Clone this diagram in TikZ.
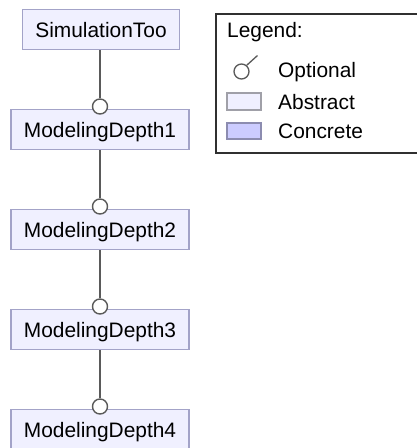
\documentclass[tikz,border=0pt]{standalone}
\usepackage{fontspec}
\setmainfont{Liberation Sans}
\begin{document}
\begin{tikzpicture}[x=1pt,y=-1pt,
  every node/.append style={font=\fontsize{20.9}{24}\selectfont},
  feature/.style={draw=boxline, fill=abstractfill, line width=1.4pt,
    rectangle, inner xsep=13pt, inner ysep=0pt, minimum height=40pt,
    text height=15pt, text depth=0pt},
  optcircle/.style={circle, draw=linegray, fill=white, line width=1.4pt,
    minimum size=15pt, inner sep=0pt},
  link/.style={draw=linegray, line width=1.4pt},
  legendtext/.style={anchor=base west, inner sep=0pt}]
\definecolor{boxline}{HTML}{A3A3C8}
\definecolor{abstractfill}{HTML}{F0F0FF}
\definecolor{concretefill}{HTML}{CCCCFF}
\definecolor{concreteline}{HTML}{8C8CB0}
\definecolor{abstractline}{HTML}{A0A0A8}
\definecolor{linegray}{HTML}{5A5A5A}
\definecolor{legendline}{HTML}{303030}

\useasboundingbox (0,0) rectangle (416,448);

% feature tree
\node[feature] (sim) at (101,29.5) {SimulationToo};
\node[feature] (md1) at (100,129.5) {ModelingDepth1};
\node[feature] (md2) at (100,229.5) {ModelingDepth2};
\node[feature] (md3) at (100,329.5) {ModelingDepth3};
\node[feature] (md4) at (100,429.5) {ModelingDepth4};

% optional markers sitting on the child boxes
\node[optcircle] (o1) at (100,106.5) {};
\node[optcircle] (o2) at (100,206.5) {};
\node[optcircle] (o3) at (100,306.5) {};
\node[optcircle] (o4) at (100,406.5) {};

\draw[link] (sim.south -| o1.north) -- (o1.north);
\draw[link] (md1.south) -- (o2.north);
\draw[link] (md2.south) -- (o3.north);
\draw[link] (md3.south) -- (o4.north);

% legend
\draw[legendline, line width=1.4pt] (216,14) rectangle (440,153);
\node[legendtext] (lgtitle) at (227,37.5) {Legend:};

\coordinate (tailend) at (257.5,55.5);
\node[circle, draw=linegray, fill=white, line width=1.3pt, minimum size=15pt,
      inner sep=0pt] (lgopt) at (241.5,71.5) {};
\draw[linegray, line width=1.3pt] (lgopt.50) -- (tailend);
\node[legendtext] (lgopttext) at (278,77) {Optional};

\node[draw=abstractline, fill=abstractfill, line width=1.4pt, minimum width=34pt,
      minimum height=17pt, inner sep=0pt] (lgabs) at (244,101.5) {};
\node[legendtext] (lgabstext) at (278,109) {Abstract};

\node[draw=concreteline, fill=concretefill, line width=1.4pt, minimum width=34pt,
      minimum height=16pt, inner sep=0pt] (lgcon) at (244,131) {};
\node[legendtext] (lgcontext) at (278,138) {Concrete};
\end{tikzpicture}
\end{document}
